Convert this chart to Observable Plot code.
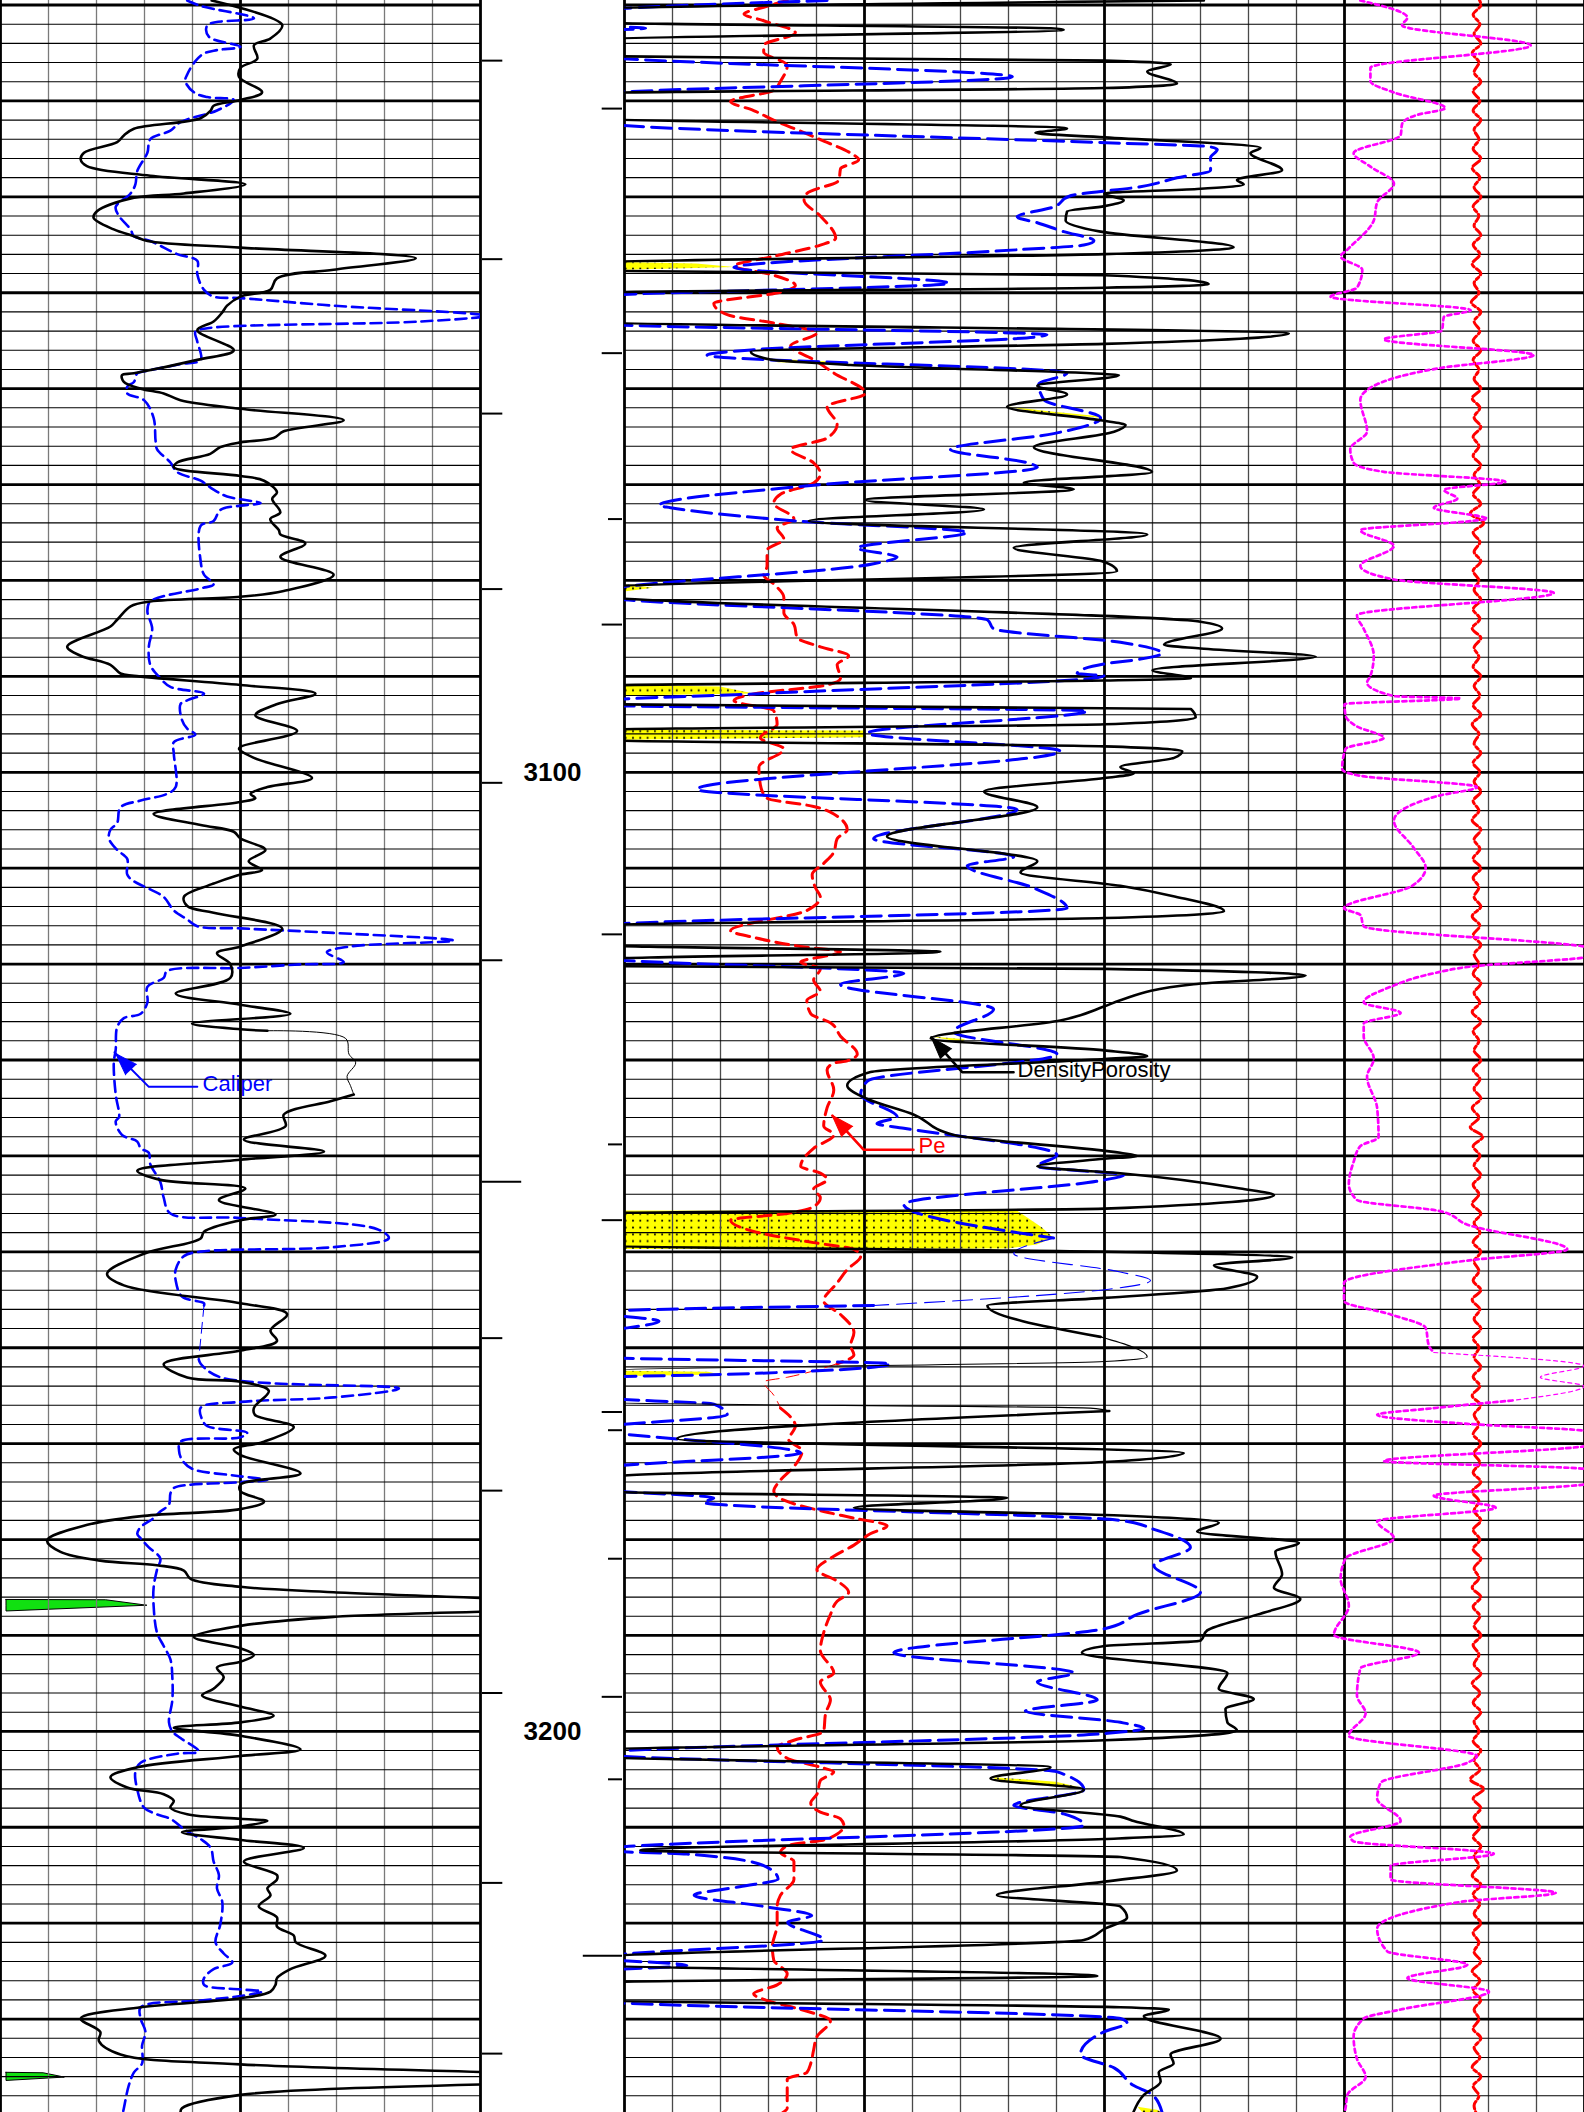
<!DOCTYPE html>
<html><head><meta charset="utf-8">
<script src="https://cdn.jsdelivr.net/npm/d3@7"></script>
<script src="https://cdn.jsdelivr.net/npm/@observablehq/plot@0.6"></script>
<style>
html,body{margin:0;padding:0;background:#fff}
#wrap{display:flex;width:1584px;height:2112px;overflow:hidden;background:#fff}
#wrap svg{flex:none;display:block;max-width:none}
</style></head>
<body><div id="wrap"></div>
<script>
// ---------------- depth frame ----------------
const TOP = 3019.53, BOTTOM = 3239.74;
const depthLabels = [3100, 3200];
const leftTicks = [3025.8, 3046.5, 3062.6, 3080.9, 3101.1, 3119.6, 3159.0, 3174.9, 3196.0, 3215.8, 3233.6];
const leftTicksLong = [3142.7];
const rightTicks = [3030.8, 3056.3, 3084.6, 3116.9, 3146.7, 3166.7, 3196.4];
const rightTicksShort = [3073.6, 3138.8, 3168.6, 3182.0, 3205.0];
const rightTicksLong = [3223.4];

// ---------------- track 1: GR (API, 0-100) and Caliper (in, 6-16) ----------------
const gr = [[3019.53,44],[3022.1,58.7],[3023.5,56.2],[3024.2,52.8],[3025.6,53.5],[3026.55,50],[3027.5,49.7],[3029.1,54.5],[3029.9,50],[3030.5,44.4],[3031.0,43.8],[3031.8,41.7],[3032.9,27.8],[3033.6,25.7],[3034.3,24.3],[3035.4,17.4],[3036.1,16.7],[3036.8,18],[3037.8,31.2],[3038.7,51],[3039.65,38.2],[3040.1,27.8],[3041.5,20.1],[3042.2,19.4],[3043.4,23.6],[3044.1,27.8],[3044.6,30.6],[3045.3,50],[3046.4,86.5],[3047.6,69.4],[3048.5,57.6],[3049.7,56.2],[3050.4,50],[3051.35,47.2],[3052.05,46.2],[3053.0,44.4],[3053.9,41],[3056.0,48.6],[3057.0,41],[3058.4,27.8],[3058.6,25.3],[3059.3,25.7],[3060.0,29.2],[3060.5,34],[3061.2,37.5],[3062.1,50],[3063.3,71.5],[3064.45,59],[3065.15,56.9],[3065.6,50],[3066.1,45.8],[3066.8,43.7],[3067.7,36.8],[3068.2,36.1],[3069.1,50],[3069.6,54.9],[3070.8,57.6],[3071.5,56.6],[3072.9,58.3],[3073.6,56.2],[3074.75,58],[3075.2,58.3],[3076.15,63.5],[3077.55,58.3],[3079.4,69.4],[3081.1,59],[3081.7,50],[3082.2,31.2],[3082.7,27.1],[3084.1,24.3],[3084.8,22.9],[3086.9,13.9],[3087.85,16.7],[3088.8,22.9],[3089.7,25],[3089.95,27.8],[3090.9,50],[3091.8,65.6],[3092.9,57.5],[3094.06,53.1],[3095.7,61.8],[3097.33,50],[3097.57,49.7],[3098.5,52.8],[3100.6,64.9],[3101.54,55.6],[3102.25,52.1],[3102.7,53.1],[3103.1,50],[3104.35,31.9],[3105.5,41.7],[3106.2,48.6],[3106.9,50],[3108.1,55.2],[3109.27,51.7],[3110.2,54.5],[3110.67,50],[3111.6,44.4],[3111.84,43.1],[3113.0,38.2],[3113.95,38.9],[3114.65,44.4],[3116.3,58.7],[3118.16,50],[3118.86,45.1],[3120.03,47.9],[3121.43,47.9],[3123.07,36.5],[3124.24,50],[3125.18,60.4],[3126.2,39.9],[3126.8,50],[3126.95,55.6],[3127.75,71.9],[3129.39,72.6],[3130.3,74],[3131.7,72.2],[3132.66,72.9],[3133.6,73.6],[3134.3,68.75],[3135.7,59],[3136.9,59.4],[3138.3,50.7],[3139.54,67.4],[3140.4,50],[3141.55,28.5],[3142.5,33.3],[3143.4,51],[3144.6,45.5],[3146.1,57.3],[3146.7,50],[3147.9,42.4],[3148.6,41.7],[3150.2,29.9],[3152.3,22.2],[3153.5,25.7],[3155.36,50],[3156.5,59.7],[3158.2,56.25],[3159.3,57.6],[3160.3,50],[3161.7,34],[3163.1,38.9],[3163.55,50],[3164.5,55.9],[3166.26,52.8],[3167.0,53],[3168.27,61.1],[3169.8,54.9],[3170.6,48.6],[3171.2,50],[3173.1,62.5],[3174.26,50],[3174.96,50],[3176.04,54.9],[3176.83,50],[3177.53,29.9],[3178.47,18.1],[3180.1,9.7],[3181.28,12.5],[3182.2,20.8],[3182.68,32.6],[3183.24,38.2],[3184.1,39.6],[3184.93,50],[3185.5,69.4],[3186.9,130],[3188.06,69.4],[3189.0,50],[3190.17,40.3],[3191.34,50],[3192.04,52.8],[3192.74,50],[3193.35,45.1],[3194.38,46.5],[3195.55,44.4],[3196.25,42],[3197.42,50],[3198.36,56.9],[3199.06,50],[3199.62,36.1],[3200.46,50],[3201.87,62.5],[3202.57,50],[3203.74,28.5],[3204.77,22.9],[3205.85,26.4],[3206.55,34],[3207.25,36.1],[3207.95,35.4],[3208.65,38.9],[3209.12,50],[3209.35,55.6],[3209.92,50],[3210.52,37.8],[3211.32,50],[3212.16,63.2],[3213.57,50.7],[3214.97,57.6],[3215.44,57.6],[3216.37,55.6],[3217.08,56.25],[3218.25,53.8],[3219.4,57.6],[3220.35,57.6],[3221.29,61.1],[3221.99,61.5],[3223.39,67.7],[3224.8,60.4],[3225.73,57.6],[3226.43,57.3],[3227.13,56.25],[3227.83,50],[3228.77,29.2],[3229.94,16.7],[3231.35,20.8],[3232.28,20.5],[3233.69,25],[3234.72,50],[3236.2,130],[3237.9,50],[3239.3,37.8],[3239.74,37.5]];
const grThin = [3126.95, 3133.6];

const cali = [[3019.53,9.89],[3020.1,10.17],[3021.4,11.28],[3022.1,10.31],[3023.3,10.34],[3024.35,11.0],[3024.7,10.51],[3025.05,10.24],[3025.85,10.06],[3027.25,9.89],[3027.95,9.85],[3029.1,10.03],[3029.6,10.31],[3029.9,10.86],[3031.0,10.51],[3032.2,9.75],[3033.1,9.54],[3034.0,9.12],[3035.4,9.06],[3037.3,8.85],[3038.7,8.81],[3039.65,8.71],[3041.05,8.4],[3042.0,8.47],[3043.4,8.71],[3044.1,8.78],[3044.6,9.12],[3045.97,9.68],[3046.67,10.1],[3048.08,10.1],[3049.7,10.24],[3050.4,10.44],[3050.56,11.0],[3051.35,12.94],[3052.4,16.1],[3053.0,14.75],[3053.7,10.31],[3054.07,10.06],[3055.1,10.1],[3057.0,10.17],[3057.44,9.75],[3058.14,9.06],[3058.4,8.85],[3059.3,8.78],[3059.8,8.64],[3060.5,8.64],[3061.2,8.99],[3063.05,9.19],[3065.4,9.23],[3066.3,9.26],[3067.7,9.54],[3068.7,9.68],[3069.6,10.17],[3070.54,10.44],[3071.24,10.72],[3071.94,11.42],[3072.2,11.0],[3072.65,10.58],[3073.8,10.44],[3074.3,10.17],[3078.0,10.17],[3079.4,10.24],[3080.4,10.44],[3080.83,10.17],[3082.2,9.12],[3083.2,9.06],[3085.0,9.16],[3086.9,9.09],[3088.8,9.12],[3090.2,9.33],[3091.1,9.54],[3091.8,10.24],[3092.5,9.89],[3092.9,9.75],[3094.53,9.78],[3095.46,9.89],[3096.07,10.06],[3096.86,9.61],[3098.03,9.61],[3101.54,9.65],[3102.25,9.47],[3102.95,8.92],[3103.65,8.5],[3105.29,8.43],[3105.99,8.29],[3106.93,8.26],[3108.1,8.43],[3109.03,8.64],[3110.67,8.64],[3111.37,8.78],[3112.07,9.06],[3113.0,9.4],[3114.41,9.61],[3115.35,9.89],[3116.05,10.1],[3116.28,11.0],[3116.75,12.94],[3117.55,15.44],[3118.16,13.29],[3118.77,12.8],[3119.79,13.15],[3120.03,12.25],[3120.4,11.0],[3120.73,9.47],[3121.43,9.4],[3122.37,9.06],[3124.0,9.06],[3125.18,8.92],[3125.64,8.57],[3126.58,8.43],[3128.92,8.4],[3130.32,8.36],[3133.6,8.4],[3135.94,8.47],[3136.41,8.4],[3137.81,8.53],[3138.51,8.85],[3139.21,8.92],[3139.68,9.09],[3140.85,9.12],[3142.72,9.33],[3144.36,9.4],[3146.0,9.54],[3146.47,11.0],[3147.64,13.85],[3148.57,14.09],[3149.51,12.94],[3149.98,10.17],[3150.45,9.82],[3151.85,9.65],[3153.0,9.65],[3154.66,9.78],[3155.36,10.24],[3155.59,10.24],[3161.2,10.13],[3161.67,10.17],[3163.08,10.58],[3164.25,14.3],[3165.18,12.94],[3165.65,11.0],[3166.26,10.17],[3167.47,10.2],[3168.17,10.31],[3168.88,11.14],[3169.34,11.0],[3169.8,9.75],[3170.75,9.72],[3171.68,9.78],[3172.62,9.99],[3173.32,10.86],[3173.79,11.56],[3174.02,11.0],[3174.63,9.61],[3175.2,9.54],[3176.36,9.51],[3177.07,9.33],[3177.77,9.19],[3178.7,8.92],[3179.4,8.85],[3179.87,8.92],[3180.81,9.09],[3181.98,9.33],[3183.15,9.26],[3185.02,9.19],[3186.9,9.19],[3189.7,9.26],[3191.1,9.4],[3192.5,9.54],[3194.38,9.58],[3196.72,9.58],[3199.06,9.51],[3200.0,9.58],[3200.7,9.75],[3202.1,10.13],[3202.33,9.68],[3203.27,8.92],[3204.2,8.81],[3206.08,8.85],[3207.95,8.99],[3208.65,9.26],[3209.12,9.54],[3210.3,9.85],[3211.23,10.17],[3212.16,10.38],[3213.57,10.44],[3214.97,10.55],[3216.37,10.51],[3217.78,10.62],[3220.12,10.58],[3221.99,10.48],[3223.16,10.65],[3224.1,10.83],[3224.8,10.44],[3225.73,10.24],[3226.43,10.24],[3226.9,11.0],[3227.13,11.45],[3227.6,11.0],[3228.07,10.17],[3228.77,8.92],[3229.94,8.92],[3231.35,9.02],[3232.75,8.95],[3234.62,8.95],[3235.56,8.78],[3236.96,8.67],[3239.3,8.57],[3239.74,8.55]];
const caliThin = [3155.59, 3161.2];

// green backup shading (GR units: depth, left, right)
const greenA = [[3186.3,1.25,1.25],[3186.33,1.25,22],[3186.9,1.25,30.6],[3187.5,1.25,1.25]];
const greenB = [[3235.6,1.25,1.25],[3235.65,1.25,9],[3236.1,1.25,13.4],[3236.45,1.25,1.25]];

// ---------------- track 3: porosity (%, 30 .. -10), Pe (0-20), RT (0-20), DRHO (-0.9 .. 0.1) ----------------
const dphi = [[3019.53,5.86],[3020.5,31.2],[3021.8,31.2],[3022.43,12.24],[3022.57,11.7],[3023.65,31.2],[3025.33,31.2],[3025.8,10],[3026.18,7.24],[3026.93,8.22],[3028.2,6.98],[3028.66,10],[3029.2,31.2],[3031.8,31.2],[3032.87,11.56],[3033.34,12.88],[3033.8,10],[3034.88,3.5],[3035.44,3.92],[3037.22,2.6],[3038.25,4.48],[3038.72,4.2],[3039.19,6.14],[3039.65,10],[3040.36,9.2],[3040.97,10],[3041.53,11.56],[3042.46,11.62],[3043.63,10.16],[3045.27,4.62],[3045.97,10],[3046.9,31.2],[3047.7,31.2],[3048.17,10],[3049.1,5.66],[3049.48,10],[3050.0,31.2],[3053.0,31.2],[3054.26,2.32],[3055.33,10],[3056.13,24.74],[3056.97,23.92],[3057.53,20.58],[3058.5,9.88],[3058.6,9.4],[3059.7,12.8],[3060.6,11.56],[3061.9,14.06],[3063.3,10.16],[3063.8,9.12],[3064.5,9.6],[3066.1,12.94],[3068.7,8.02],[3069.8,13.36],[3070.5,11.28],[3071.6,19.96],[3072.6,15.02],[3073.8,22.32],[3075.2,8.22],[3076.6,13.78],[3078.0,10.1],[3079.05,9.48],[3080.8,31.2],[3081.5,31.2],[3084.3,6],[3085.0,5.1],[3086.7,7.52],[3087.1,6],[3087.94,1.2],[3089.35,8],[3090.2,6.4],[3090.43,10],[3091.0,31.2],[3092.9,31.2],[3093.4,6.4],[3094.3,6.2],[3095.0,10],[3095.6,31.2],[3096.6,31.2],[3097.3,10],[3097.8,6.76],[3098.5,7.1],[3099.44,9.34],[3100.14,8.78],[3100.6,10],[3102.0,15.02],[3103.65,12.8],[3106.69,19.06],[3109.27,12.8],[3110.44,13.5],[3111.84,9.34],[3112.9,7.18],[3114.5,5.02],[3115.2,10],[3116.0,31.2],[3118.0,31.2],[3118.72,16.84],[3119.5,31.2],[3120.2,31.2],[3120.5,10],[3121.2,1.62],[3122.1,6.28],[3123.77,9.34],[3124.4,10],[3125.88,11.84],[3127.75,17.24],[3129.0,10],[3129.6,8.22],[3129.9,10],[3131.26,19.75],[3132.66,20.72],[3134.07,19.88],[3135.7,17.94],[3137.81,16.28],[3139.68,9.34],[3140.0,8.64],[3140.3,10],[3141.09,12.8],[3141.8,9.34],[3143.4,4.34],[3144.1,2.94],[3145.5,10],[3146.0,31.2],[3149.3,31.2],[3150.0,10],[3150.6,2.18],[3151.4,5.44],[3152.6,3.64],[3153.8,4.88],[3154.8,10],[3155.59,14.88],[3158.87,10.16],[3160.97,8.22],[3161.44,10],[3162.4,31.2],[3165.7,31.2],[3166.3,10.6],[3166.6,9.8],[3169.49,27.8],[3170.98,6.7],[3171.92,10],[3173.32,30],[3173.6,31.2],[3174.96,31.2],[3175.66,14.06],[3176.69,20.44],[3177.5,9.34],[3178.24,5.24],[3179.17,6.14],[3180.34,1.9],[3181.28,2.88],[3183.62,2.6],[3185.02,2.94],[3186.19,1.84],[3187.83,3.64],[3189.47,5.72],[3190.54,6],[3191.1,10],[3191.8,10.94],[3193.91,4.88],[3195.55,5.24],[3196.63,3.78],[3197.66,4.96],[3199.06,4.88],[3199.9,4.48],[3200.93,10],[3202.0,31.2],[3202.6,31.2],[3203.74,12.25],[3204.91,14.75],[3206.08,10.86],[3207.72,13.5],[3208.89,9.34],[3209.35,8.78],[3210.76,6.7],[3211.23,10],[3212.4,29.34],[3213.1,9.34],[3214.5,6.98],[3215.67,10],[3217.08,14.48],[3218.25,9.34],[3219.42,9.06],[3220.59,10],[3221.76,10.86],[3223.63,31.2],[3224.33,31.2],[3225.5,10.3],[3226.2,31.2],[3228.0,31.2],[3228.77,9.34],[3229.0,7.32],[3229.71,8.36],[3232.05,5.16],[3233.69,7.25],[3234.62,7.12],[3235.56,7.74],[3236.5,7.66],[3237.9,8.36],[3239.74,8.8]];
const dphiThin = [3158.87, 3166.6];

const nphi = [[3019.53,21.56],[3020.7,31.2],[3022.1,31.2],[3022.43,29.12],[3022.71,31.2],[3025.24,31.2],[3027.49,13.84],[3029.36,31.2],[3032.17,31.2],[3034.41,9.34],[3034.74,5.72],[3035.07,5.3],[3035.91,5.58],[3037.22,5.58],[3038.02,6.98],[3038.95,8.5],[3039.89,11.42],[3041.06,12.12],[3042.09,13.64],[3042.7,12.8],[3043.63,11.7],[3044.57,10.44],[3045.03,10.86],[3045.5,13.5],[3047.37,25.44],[3049.01,16.48],[3050.42,31.2],[3053.22,31.2],[3054.39,12.4],[3054.63,12.94],[3055.94,24.62],[3056.5,26.56],[3058.37,11.56],[3059.54,12.74],[3061.18,12.52],[3063.05,10.16],[3064.69,12.12],[3066.33,16.42],[3067.73,13.22],[3068.2,12.8],[3070.07,22.12],[3072.18,28.56],[3072.41,28.08],[3073.81,22.8],[3074.98,15.72],[3076.62,20.3],[3077.56,18.64],[3078.26,19.62],[3081.3,31.2],[3081.6,31.2],[3084.11,14.88],[3085.04,14.62],[3086.45,9.34],[3087.6,7.6],[3088.2,8.5],[3088.7,10],[3089.7,11.14],[3089.96,10.02],[3091.83,24.62],[3092.6,31.2],[3093.0,31.2],[3093.59,10.72],[3095.93,19.88],[3097.8,11.84],[3101.78,26.98],[3103.88,13.64],[3106.93,19.62],[3108.8,13.78],[3109.73,15.72],[3112.07,12.94],[3114.18,11.56],[3116.05,31.2],[3119.33,31.2],[3120.96,18.36],[3122.13,21],[3124.71,14.62],[3127.05,16.28],[3129.39,11.98],[3132.2,19.88],[3133.6,20.16],[3135.94,18.64],[3136.64,19.48],[3137.11,18.36],[3139.92,11.98],[3141.09,12.8],[3142.0,9.2],[3142.5,10],[3145.06,18.36],[3148.57,12.12],[3150.2,13.78],[3152.1,9.34],[3153.0,8.08],[3153.9,9.82],[3155.6,19.62],[3156.29,31.2],[3157.23,28.56],[3158.63,31.2],[3160.97,31.2],[3161.67,18.92],[3162.8,26],[3163.1,31.2],[3165.18,31.2],[3165.89,26.28],[3167.0,25.72],[3168.4,31.2],[3170.98,22.66],[3172.62,31.2],[3174.73,31.2],[3175.66,26.28],[3176.13,26.7],[3178.0,9.34],[3178.94,7.94],[3180.81,6.42],[3182.7,7.94],[3185.5,6],[3187.8,8.64],[3189.3,10],[3191.8,18.78],[3193.91,11.28],[3194.85,12.8],[3196.72,10.3],[3197.89,13.3],[3199.06,9.34],[3199.7,8.36],[3200.23,10],[3202.33,31.2],[3204.2,12],[3206.08,10.86],[3207.72,13.78],[3208.6,11.7],[3209.8,10.86],[3212.4,31.2],[3212.8,27.4],[3214.0,24.2],[3215.4,23.6],[3216.2,25.2],[3217.08,27.1],[3218.25,24.2],[3219.2,22.2],[3219.9,23.2],[3221.76,21.7],[3223.63,31.2],[3224.4,27.4],[3225.0,31.2],[3228.07,31.2],[3229.94,9.34],[3230.4,9.06],[3231.3,10],[3233.69,11],[3235.09,9.6],[3236.9,8.8],[3237.9,8],[3239.74,7.6]];
const nphiThin = [3148.57, 3155.6];

// crossover shading (porosity %: depth, density side, neutron side)
const crossovers = [
  [[3046.85,30,30],[3047.0,30,27],[3047.37,30,25.4],[3047.65,30,30]],
  [[3090.95,30,30],[3091.1,30,26],[3091.83,30,24.6],[3092.05,30,30]],
  [[3095.6,30,30],[3095.7,30,20],[3096.4,30,19.9],[3096.65,30,30]],
  [[3061.9,14.06,14.06],[3062.4,13.0,12.3],[3062.9,11.0,10.3],[3063.1,10.16,10.16]],
  [[3145.75,30,30],[3145.8,30,13.6],[3147.5,30,12.6],[3148.57,30,12.12],[3149.3,30,12.8],[3149.7,30,14],[3149.75,30,30]],
  [[3080.4,30,30],[3080.8,30,28.8],[3081.2,30,30]],
  [[3056.9,24.0,24.0],[3057.3,23.6,20.8],[3057.5,20.6,20.6]],
  [[3127.6,17.2,17.2],[3127.9,16.6,15.8],[3128.2,15.9,15.9]],
  [[3162.45,30,30],[3162.55,30,26.5],[3162.85,30,26],[3163.0,30,30]],
  [[3204.8,14.74,14.74],[3205.3,14.2,12.0],[3206.0,11.0,10.8]],
  [[3239.2,8.6,8.6],[3239.5,8.5,7.8],[3239.74,8.4,7.6]]
];

const pe = [[3019.53,3.39],[3020.23,2.9],[3020.94,2.49],[3021.64,2.9],[3022.9,3.56],[3024.2,2.9],[3024.9,2.9],[3026.3,3.39],[3027.95,3.25],[3028.9,3.11],[3030.06,2.21],[3031.0,2.69],[3032.17,3.18],[3032.87,3.53],[3034.04,4.08],[3035.44,4.71],[3036.14,4.88],[3037.08,4.5],[3038.25,4.47],[3039.65,3.8],[3040.36,3.74],[3042.0,4.08],[3044.33,4.4],[3045.03,4.08],[3046.2,3.11],[3047.23,2.28],[3048.08,3.04],[3049.25,3.56],[3049.95,3.25],[3051.12,1.86],[3052.29,2.14],[3053.22,3.18],[3054.16,4.01],[3055.56,3.46],[3056.97,3.94],[3058.37,4.36],[3060.48,5.02],[3061.88,4.22],[3063.75,4.43],[3065.16,4.22],[3066.33,3.46],[3067.73,3.94],[3068.9,4.08],[3069.84,3.94],[3071.0,3.25],[3071.94,3.11],[3073.58,3.53],[3074.52,3.18],[3075.69,3.32],[3076.86,2.97],[3078.5,2.97],[3079.43,2.9],[3080.37,3.11],[3081.77,3.32],[3083.4,3.32],[3084.58,3.53],[3085.98,3.6],[3086.92,4.08],[3087.85,4.67],[3088.79,4.43],[3090.19,4.5],[3090.9,4.22],[3091.83,2.69],[3092.53,2.28],[3093.59,3.11],[3094.99,3.18],[3096.4,2.83],[3097.57,3.32],[3099.44,2.8],[3101.31,2.83],[3102.71,2.97],[3103.56,3.94],[3104.35,4.36],[3105.99,4.64],[3106.93,4.43],[3108.33,4.36],[3109.5,4.15],[3110.67,3.91],[3112.07,3.98],[3113.0,4.08],[3114.41,3.8],[3116.52,2.21],[3117.22,2.69],[3118.16,3.67],[3118.72,4.5],[3119.79,3.67],[3120.5,4.08],[3121.67,3.94],[3122.84,4.08],[3123.77,3.8],[3125.18,3.88],[3126.11,4.29],[3127.52,4.5],[3129.39,4.85],[3130.09,4.64],[3130.32,4.36],[3131.03,4.22],[3133.13,4.36],[3135.0,4.22],[3136.87,4.15],[3137.81,4.36],[3139.21,3.94],[3141.09,3.67],[3141.79,4.08],[3142.49,4.22],[3143.43,3.94],[3144.36,4.08],[3145.3,3.94],[3146.0,3.39],[3146.7,2.21],[3147.87,2.69],[3149.04,3.94],[3149.74,4.78],[3150.45,4.92],[3151.85,4.64],[3153.25,4.43],[3155.12,4.15],[3156.53,4.5],[3158.4,4.78],[3159.8,4.71],[3160.74,4.78],[3161.67,4.43],[3163.08,3.39],[3163.55,2.9],[3164.95,3.11],[3166.3,3.25],[3168.17,3.56],[3169.58,3.42],[3170.75,3.7],[3172.39,3.53],[3173.79,3.25],[3174.96,3.11],[3175.9,3.32],[3177.07,4.15],[3177.77,4.78],[3178.56,5.47],[3179.4,5.12],[3180.58,4.78],[3181.75,4.36],[3183.15,4.01],[3184.32,4.43],[3185.49,4.67],[3186.43,4.43],[3187.83,4.29],[3189.7,4.15],[3191.57,4.08],[3193.91,4.36],[3194.85,4.08],[3196.72,4.29],[3198.12,4.19],[3200.0,4.15],[3200.93,3.53],[3201.63,3.18],[3202.8,3.39],[3203.74,4.08],[3204.21,4.36],[3205.14,4.08],[3206.55,4.01],[3207.48,3.88],[3208.42,4.08],[3209.12,4.5],[3209.82,4.57],[3211.23,4.22],[3211.93,3.39],[3212.63,3.25],[3213.57,3.53],[3215.44,3.53],[3217.08,3.25],[3218.25,3.18],[3220.12,3.18],[3222.46,3.08],[3223.86,3.11],[3225.26,3.39],[3226.43,3.18],[3227.37,2.69],[3228.07,2.97],[3229.0,3.67],[3230.18,4.29],[3231.82,4.01],[3233.22,3.94],[3234.62,3.88],[3235.56,3.8],[3236.26,3.39],[3237.9,3.39],[3239.3,3.39],[3239.74,3.3]];
const peThin = [3161.67, 3166.3];

const rt = [[3019.53,15.33],[3021.31,16.31],[3022.11,16.2],[3024.21,18.88],[3026.55,15.54],[3027.95,15.54],[3029.12,16.03],[3030.76,17.1],[3031.46,16.51],[3032.4,16.2],[3033.57,16.17],[3035.44,15.19],[3036.85,15.54],[3038.62,16.03],[3040.59,15.68],[3042.46,15.61],[3045.5,15.06],[3046.2,14.92],[3047.61,15.37],[3049.48,15.26],[3050.42,14.71],[3051.82,17.63],[3052.52,17.07],[3053.93,17.03],[3054.86,15.82],[3056.5,18.94],[3057.9,16.93],[3059.54,15.68],[3061.18,15.33],[3064.45,15.47],[3066.33,15.12],[3067.73,15.19],[3068.67,15.82],[3069.7,18.35],[3070.54,17.07],[3071.47,17.35],[3072.41,16.86],[3073.58,17.97],[3073.81,17.63],[3074.75,15.33],[3076.39,16.03],[3078.49,15.33],[3079.9,16.03],[3081.3,19.36],[3083.64,15.26],[3085.04,15.4],[3087.85,15.61],[3089.96,15.54],[3090.66,15.47],[3092.06,16.03],[3092.3,17.42],[3092.9,15.0],[3094.06,15.02],[3095.23,15.26],[3096.4,15.82],[3097.57,15.02],[3099.67,14.95],[3100.37,15.33],[3101.54,17.76],[3102.48,16.93],[3105.05,16.03],[3107.86,16.44],[3109.97,16.69],[3111.84,16.41],[3114.18,14.99],[3114.88,15.33],[3116.05,15.4],[3118.16,19.99],[3118.75,20.6],[3119.33,19.99],[3120.26,17.63],[3120.96,16.86],[3122.37,15.96],[3124.0,15.4],[3125.08,16.17],[3126.2,15.4],[3127.52,15.4],[3129.86,15.61],[3131.73,15.47],[3135.0,15.68],[3138.04,15.71],[3138.98,15.33],[3140.62,15.19],[3142.96,15.09],[3144.6,15.26],[3145.77,17.0],[3147.17,17.56],[3149.74,19.64],[3150.91,17.56],[3153.25,14.99],[3155.12,14.99],[3156.53,15.96],[3157.93,16.69],[3159.8,16.76],[3160.5,16.86],[3161.9,19.99],[3163.08,19.08],[3164.02,19.99],[3165.5,18.5],[3166.3,16.86],[3167.0,15.68],[3167.94,17.56],[3168.64,19.99],[3169.3,20.6],[3170.28,19.99],[3171.82,15.82],[3172.62,19.99],[3173.4,20.6],[3174.26,19.99],[3175.43,16.86],[3176.69,18.15],[3178.1,15.68],[3179.87,16.03],[3181.98,15.02],[3184.09,14.92],[3186.89,15.09],[3189.93,14.78],[3191.8,16.55],[3193.44,15.33],[3196.25,15.26],[3198.12,15.44],[3200.46,15.09],[3202.57,17.76],[3203.27,17.56],[3205.38,15.75],[3207.0,15.68],[3209.35,16.17],[3210.99,15.12],[3211.46,15.19],[3212.77,18.11],[3214.03,15.96],[3215.44,15.96],[3216.84,19.4],[3217.78,17.42],[3220.59,15.68],[3222.93,15.89],[3224.33,17.56],[3225.73,16.31],[3227.14,18.01],[3229.0,16.17],[3229.94,15.4],[3231.82,15.19],[3234.16,15.26],[3236.03,15.44],[3237.9,15.06],[3239.3,15.02],[3239.74,15.0]];
const rtThin = [3160.5, 3165.5];

// DRHO sampled every metre from 3019 m to 3240 m
const drhoStart = 3019;
const drhoValues = [-0.012,
 -0.008,-0.016,-0.009,-0.015,-0.008,-0.017,-0.010,-0.015,-0.008,-0.016,
 -0.009,-0.016,-0.008,-0.015,-0.010,-0.016,-0.008,-0.017,-0.009,-0.015,
 -0.008,-0.016,-0.010,-0.015,-0.008,-0.016,-0.009,-0.017,-0.008,-0.015,
 -0.010,-0.018,-0.008,-0.015,-0.009,-0.016,-0.008,-0.016,-0.010,-0.015,
 -0.008,-0.017,-0.009,-0.015,-0.008,-0.016,-0.010,-0.016,-0.008,-0.015,
 -0.009,-0.016,-0.008,-0.019,-0.005,-0.016,-0.009,-0.015,-0.008,-0.016,
 -0.010,-0.015,-0.008,-0.016,-0.009,-0.017,-0.008,-0.015,-0.010,-0.016,
 -0.008,-0.015,-0.009,-0.016,-0.008,-0.017,-0.010,-0.015,-0.008,-0.016,
 -0.009,-0.015,-0.008,-0.016,-0.010,-0.017,-0.008,-0.015,-0.009,-0.016,
 -0.008,-0.016,-0.010,-0.015,-0.008,-0.017,-0.009,-0.016,-0.008,-0.015,
 -0.010,-0.016,-0.008,-0.015,-0.009,-0.017,-0.008,-0.016,-0.010,-0.015,
 -0.008,-0.016,-0.009,-0.015,-0.008,-0.017,-0.010,-0.019,-0.006,-0.016,
 -0.009,-0.015,-0.008,-0.016,-0.010,-0.017,-0.008,-0.015,-0.009,-0.016,
 -0.008,-0.015,-0.010,-0.016,-0.008,-0.017,-0.009,-0.015,-0.008,-0.016,
 -0.010,-0.015,-0.008,-0.016,-0.009,-0.017,-0.008,-0.015,-0.010,-0.016,
 -0.008,-0.015,-0.009,-0.016,-0.008,-0.017,-0.010,-0.015,-0.008,-0.016,
 -0.009,-0.016,-0.008,-0.015,-0.010,-0.017,-0.008,-0.016,-0.009,-0.015,
 -0.008,-0.016,-0.010,-0.015,-0.008,-0.017,-0.009,-0.016,-0.008,-0.015,
 -0.010,-0.016,-0.008,-0.015,-0.009,-0.019,-0.005,-0.016,-0.008,-0.015,
 -0.009,-0.016,-0.008,-0.015,-0.010,-0.017,-0.008,-0.016,-0.009,-0.015,
 -0.008,-0.016,-0.010,-0.015,-0.008,-0.017,-0.009,-0.016,-0.008,-0.015,
 -0.010,-0.016,-0.008,-0.015,-0.009,-0.017,-0.008,-0.016,-0.010,-0.015,
 -0.012];
const drho = drhoValues.map((v, i) => [drhoStart + i, v]);

// ---------------- curve annotations (in each curve's own units) ----------------
const caliperNote = {text: "Caliper", leader: [[3129.2,8.375],[3132.8,9.09],[3132.8,10.1]], head: [3131.0,8.72], angle: -44, label: [3132.5,10.21]};
const dphiNote = {text: "DensityPorosity", leader: [[3127.65,17.22],[3131.27,15.93],[3131.27,13.79]], head: [3129.36,16.6], angle: -42, label: [3131.0,13.62]};
const peNote = {text: "Pe", leader: [[3135.8,4.33],[3139.35,4.98],[3139.35,6.02]], head: [3137.47,4.64], angle: -43, label: [3138.95,6.125]};

// ---------------- unit -> track-division transforms ----------------
const grX = v => v / 10;             // 0..100 API over 10 divisions
const calX = v => v - 6;             // 6..16 in
const porX = v => (30 - v) / 2;      // 30..-10 % over 20 divisions
const peX = v => v;                  // 0..20
const rtX = v => v;                  // 0..20
const drhoX = v => (v + 0.9) / 0.05; // -0.9..0.1

const FONT = "Liberation Sans, Arial, Helvetica, sans-serif";
const H = 2112;
const minorDepths = d3.range(3020, 3240, 2).filter(d => d % 10 !== 0);
const majorDepths = d3.range(3020, 3240, 10);
const Y = {domain: [TOP, BOTTOM], reverse: true, axis: null};

function split(data, [lo, hi]) {
  return [data.filter(d => d[0] <= lo), data.filter(d => d[0] >= lo && d[0] <= hi), data.filter(d => d[0] >= hi)];
}
function curveMarks(data, thin, fx, opts, thinWidth, curve) {
  const parts = thin ? split(data, thin) : [data];
  return parts.map((p, i) => Plot.line(p, {x: d => fx(d[1]), y: d => d[0], curve, clip: true, ...opts,
      strokeWidth: (thin && i === 1) ? thinWidth : opts.strokeWidth}));
}
function grid(nDiv, major, minorColor) {
  const all = d3.range(0, nDiv + 1);
  return [
    Plot.ruleX(all.filter(i => i % major !== 0), {stroke: minorColor, strokeWidth: 1.3}),
    Plot.ruleY(minorDepths, {stroke: "#000", strokeWidth: 1.1}),
    Plot.ruleY(majorDepths, {stroke: "#000", strokeWidth: 2.8}),
    Plot.ruleX(all.filter(i => i % major === 0), {stroke: "#000", strokeWidth: 2.8})
  ];
}
function note(n, fx, color, lw) {
  return [
    Plot.line(n.leader, {x: d => fx(d[1]), y: d => d[0], stroke: color, strokeWidth: lw, curve: "linear"}),
    Plot.vector([n.head], {x: d => fx(d[1]), y: d => d[0], rotate: n.angle, length: 22, shape: "spike", r: 7.5, anchor: "start", fill: color, stroke: color, strokeWidth: 1})
  ];
}
function label(n, fx, color) {
  return Plot.text([n.label], {x: d => fx(d[1]), y: d => d[0], text: () => n.text, fill: color, fontSize: 22, fontFamily: FONT, textAnchor: "start", lineAnchor: "middle"});
}

// ---------------- track 1 ----------------
const left = Plot.plot({
  width: 482, height: H, marginLeft: 0, marginRight: 2, marginTop: 0, marginBottom: 0,
  x: {domain: [0, 10], axis: null}, y: Y,
  style: {background: "transparent", fontFamily: FONT},
  marks: [
    Plot.areaX(greenA, {y: d => d[0], x1: d => grX(d[1]), x2: d => grX(d[2]), fill: "#11e011", stroke: "#000", strokeWidth: 1, curve: "linear"}),
    Plot.areaX(greenB, {y: d => d[0], x1: d => grX(d[1]), x2: d => grX(d[2]), fill: "#11e011", stroke: "#000", strokeWidth: 1, curve: "linear"}),
    label(caliperNote, calX, "#0000ff"),
    ...grid(10, 5, "#7a7a7a"),
    ...curveMarks(cali, caliThin, calX, {stroke: "#0000ff", strokeWidth: 2.6, strokeDasharray: "11,6"}, 1, "catmull-rom"),
    ...curveMarks(gr, grThin, grX, {stroke: "#000", strokeWidth: 2.6}, 1, "catmull-rom"),
    ...note(caliperNote, calX, "#0000ff", 2)
  ]
});

// ---------------- depth track ----------------
const mid = Plot.plot({
  width: 140, height: H, margin: 0,
  x: {domain: [0, 1], axis: null}, y: Y,
  style: {background: "transparent", fontFamily: FONT},
  marks: [
    Plot.ruleY(leftTicks, {x1: 0, x2: 0.145, stroke: "#000", strokeWidth: 2}),
    Plot.ruleY(leftTicksLong, {x1: 0, x2: 0.28, stroke: "#000", strokeWidth: 2}),
    Plot.ruleY(rightTicks, {x1: 0.855, x2: 1, stroke: "#000", strokeWidth: 2}),
    Plot.ruleY(rightTicksShort, {x1: 0.9, x2: 1, stroke: "#000", strokeWidth: 2}),
    Plot.ruleY(rightTicksLong, {x1: 0.72, x2: 1, stroke: "#000", strokeWidth: 2}),
    Plot.text(depthLabels, {x: 0.5, y: d => d, text: d => String(d), fontSize: 26, fontWeight: "bold", fontFamily: FONT, fill: "#000"})
  ]
});

// ---------------- track 3 ----------------
const MY = "monotone-y";
const right = Plot.plot({
  width: 962, height: H, marginLeft: 2, marginRight: 0, marginTop: 0, marginBottom: 0,
  x: {domain: [0, 20], axis: null}, y: Y,
  style: {background: "transparent", fontFamily: FONT},
  marks: [
    ...crossovers.map(z => Plot.areaX(z, {y: d => d[0], x1: d => porX(d[1]), x2: d => porX(d[2]), fill: "url(#ydots)", curve: "linear", clip: true})),
    label(dphiNote, porX, "#000"),
    label(peNote, peX, "#ff0000"),
    ...grid(20, 5, "#4a4a4a"),
    ...curveMarks(drho, null, drhoX, {stroke: "#ff0000", strokeWidth: 3, strokeDasharray: "8,3,3,3"}, 1, MY),
    ...curveMarks(rt, rtThin, rtX, {stroke: "#ff00ff", strokeWidth: 2.7, strokeDasharray: "4,3.5"}, 1.2, MY),
    ...curveMarks(pe, peThin, peX, {stroke: "#ff0000", strokeWidth: 3, strokeDasharray: "13,7"}, 1, MY),
    ...curveMarks(nphi, nphiThin, porX, {stroke: "#0000ff", strokeWidth: 3, strokeDasharray: "20,8"}, 1.1, MY),
    ...curveMarks(dphi, dphiThin, porX, {stroke: "#000", strokeWidth: 2.6}, 1.1, MY),
    ...note(dphiNote, porX, "#000", 2.6),
    ...note(peNote, peX, "#ff0000", 2.6)
  ]
});
const defs = document.createElementNS("http://www.w3.org/2000/svg", "defs");
defs.innerHTML = '<pattern id="ydots" patternUnits="userSpaceOnUse" width="7.3" height="6.8"><rect width="7.3" height="6.8" fill="#ffff00"/><rect x="2.8" y="2.6" width="1.8" height="1.8" fill="#000"/></pattern>';
right.insertBefore(defs, right.firstChild);

const wrap = document.getElementById("wrap");
wrap.appendChild(left); wrap.appendChild(mid); wrap.appendChild(right);
</script>
</body></html>
